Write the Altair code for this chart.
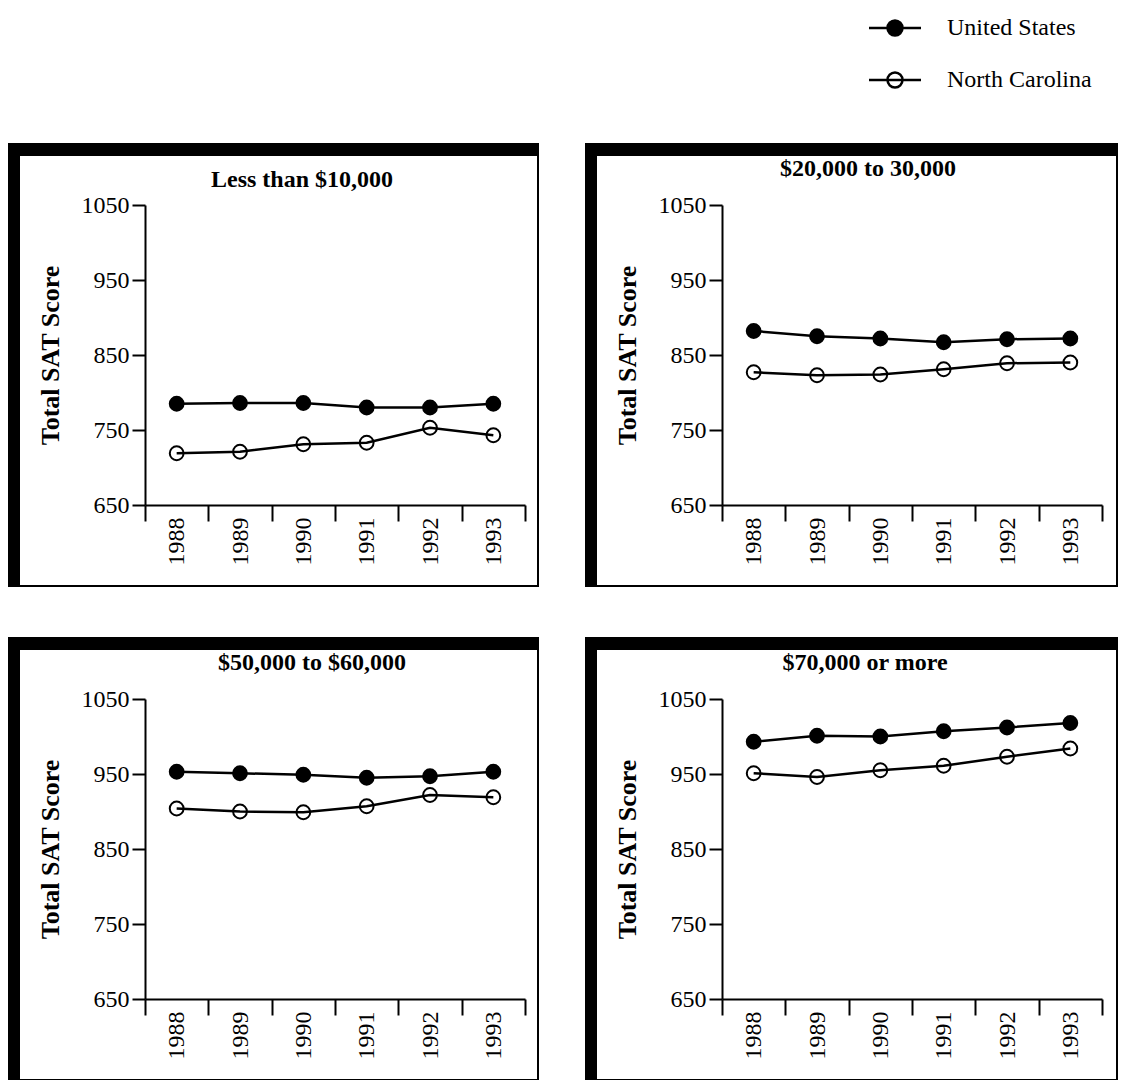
import altair as alt
import pandas as pd

years = ["1988", "1989", "1990", "1991", "1992", "1993"]
series = ["United States", "North Carolina"]
panel_titles = ["Less than $10,000", "$20,000 to 30,000", "$50,000 to $60,000", "$70,000 or more"]
y_ticks = [650, 750, 850, 950, 1050]

us_p1 = [785, 786, 786, 780, 780, 785]
nc_p1 = [719, 721, 731, 733, 753, 743]
us_p2 = [882, 875, 872, 867, 871, 872]
nc_p2 = [827, 823, 824, 831, 839, 840]
us_p3 = [953, 951, 949, 945, 947, 953]
nc_p3 = [904, 900, 899, 907, 922, 919]
us_p4 = [993, 1001, 1000, 1007, 1012, 1018]
nc_p4 = [951, 946, 955, 961, 973, 984]

W, H = 380, 300
FONT = "Liberation Serif"
LEGEND_PATH = "M-2.6,0L2.6,0M0.75,0A0.75,0.75,0,1,1,-0.75,0A0.75,0.75,0,1,1,0.75,0"

one = pd.DataFrame({"k": [0]})


def rect(x1, x2, y1, y2):
    return alt.Chart(one).mark_rect(color="black").encode(
        x=alt.value(x1), x2=alt.value(x2), y=alt.value(y1), y2=alt.value(y2)
    )


def panel(title, us, nc, tdx, ty, right_ext):
    df = pd.DataFrame({
        "Year": years * 2,
        "Score": us + nc,
        "Series": [series[0]] * 6 + [series[1]] * 6,
    })
    x = alt.X(
        "Year:O",
        sort=years,
        scale=alt.Scale(type="band", paddingInner=0, paddingOuter=0),
        axis=alt.Axis(
            title=None, labelAngle=270, labelAlign="right", labelBaseline="middle",
            labelFont=FONT, labelFontSize=24, labelColor="black", labelPadding=-4,
            tickBand="extent", tickSize=16, tickWidth=2, tickColor="black",
            domainColor="black", domainWidth=2, grid=False,
        ),
    )
    y = alt.Y(
        "Score:Q",
        scale=alt.Scale(domain=[650, 1050], nice=False, zero=False),
        axis=alt.Axis(
            values=y_ticks, format="d", title="Total SAT Score", titleFont=FONT, titleFontSize=26,
            titleFontWeight="bold", titleColor="black", titleX=-95, titleY=H / 2,
            titleAngle=270, titleAlign="center", titleBaseline="middle",
            labelFont=FONT, labelFontSize=24, labelColor="black", labelPadding=3,
            tickSize=13, tickWidth=2, tickColor="black", domainColor="black",
            domainWidth=2, grid=False,
        ),
    )
    base = alt.Chart(df)
    line = base.mark_line(color="black", strokeWidth=2.5).encode(x=x, y=y, detail="Series:N")
    pts = base.mark_point(shape="circle", filled=True, stroke="black", strokeWidth=2,
                          size=190, opacity=1).encode(
        x=x, y=y,
        fill=alt.Fill(
            "Series:N",
            scale=alt.Scale(domain=series, range=["black", "transparent"]),
            legend=alt.Legend(
                title=None, orient="none", legendX=738, legendY=-189,
                symbolType=LEGEND_PATH, symbolSize=400, symbolStrokeColor="black",
                symbolStrokeWidth=2.5, symbolOpacity=1, labelFont=FONT,
                labelFontSize=24, labelColor="black", labelOffset=40,
                rowPadding=26, padding=0,
            ),
        ),
    )
    ttl = alt.Chart(one).mark_text(
        font=FONT, fontSize=24, fontWeight="bold", color="black",
        align="center", baseline="alphabetic",
    ).encode(x=alt.value(W / 2 + tdx), y=alt.value(ty), text=alt.value(title))
    R = W + right_ext
    frame = [
        rect(-137, -125, -62, H + 82),
        rect(-137, R + 2, -62, -49),
        rect(R, R + 2, -62, H + 82),
        rect(-137, R + 2, H + 80, H + 82),
    ]
    return alt.layer(*frame, line, pts, ttl).properties(width=W, height=H)


p1 = panel(panel_titles[0], us_p1, nc_p1, -33, -18, 12)
p2 = panel(panel_titles[1], us_p2, nc_p2, -44, -29, 14)
p3 = panel(panel_titles[2], us_p3, nc_p3, -23, -29, 12)
p4 = panel(panel_titles[3], us_p4, nc_p4, -47, -29, 14)

chart = alt.concat(
    p1, p2, p3, p4, columns=2,
    spacing=alt.RowColnumber(row=194, column=197), bounds="flush",
).properties(
    padding={"top": 8, "left": 0, "right": 0, "bottom": 0}
).configure_view(stroke=None)

chart.save("out.html", embed_options={"renderer": "svg", "actions": False})
